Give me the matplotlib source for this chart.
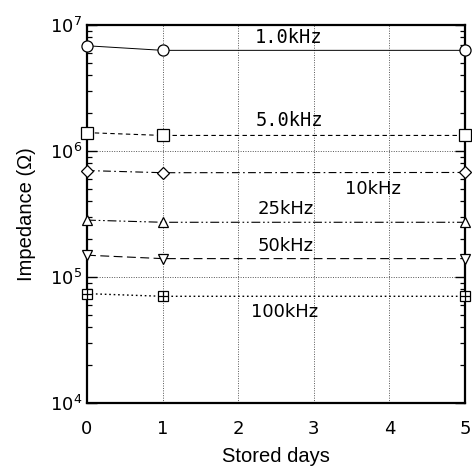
import numpy as np
import matplotlib
matplotlib.use("Agg")
import matplotlib.pyplot as plt
from matplotlib.ticker import LogLocator, NullFormatter

# stored days where the markers sit
days = [0, 1, 5]

# impedance (ohm) per frequency
z_1k = [6.85e6, 6.3e6, 6.3e6]
z_5k = [1.40e6, 1.33e6, 1.33e6]
z_10k = [7.0e5, 6.73e5, 6.76e5]
z_25k = [2.83e5, 2.72e5, 2.72e5]
z_50k = [1.49e5, 1.40e5, 1.40e5]
z_100k = [7.38e4, 7.03e4, 7.03e4]

labels = ["1.0kHz", "5.0kHz", "10kHz", "25kHz", "50kHz", "100kHz"]
label_x = [2.67, 2.68, 3.78, 2.63, 2.63, 2.62]
label_y = [8.0e6, 1.75e6, 5.0e5, 3.45e5, 1.77e5, 5.25e4]

fig = plt.figure(figsize=(4.72, 4.73), dpi=100)
ax = fig.add_axes([0.1843, 0.148, 0.8007, 0.799])

mk = dict(markersize=8, markerfacecolor="white", markeredgecolor="black",
          markeredgewidth=0.9, clip_on=False, zorder=5)

ax.plot(days, z_1k, color="black", lw=0.7, ls="-", marker="o", **mk)
ax.plot(days, z_5k, color="black", lw=0.8, ls=(0, (4, 3)), marker="s", **mk)
ax.plot(days, z_10k, color="black", lw=0.8, ls=(0, (7, 3, 1.5, 3)), marker="D",
        **dict(mk, markersize=6.5))
ax.plot(days, z_25k, color="black", lw=0.8, ls=(0, (8, 2.5, 1.5, 2.5, 1.5, 2.5)),
        marker="^", **dict(mk, markersize=7))
ax.plot(days, z_50k, color="black", lw=0.8, ls=(0, (8, 4)), marker="v",
        **dict(mk, markersize=7))
ax.plot(days, z_100k, color="black", lw=1.0, ls=(0, (1.2, 2)), marker="s",
        **dict(mk, markersize=7.5))
# the plus inside the last series' squares
ax.plot(days, z_100k, ls="none", marker="+", markersize=7.5, color="black",
        markeredgewidth=0.9, clip_on=False, zorder=6)

for i, t in enumerate(labels):
    if t in ("1.0kHz", "5.0kHz"):
        ax.text(label_x[i], label_y[i], t, ha="center", va="center",
                fontsize=13.5, family="DejaVu Sans Mono")
    else:
        ax.text(label_x[i], label_y[i], t, ha="center", va="center", fontsize=13)

ax.set_yscale("log")
ax.set_xlim(0, 5)
ax.set_ylim(1e4, 1e7)
ax.set_xticks([0, 1, 2, 3, 4, 5])
ax.yaxis.set_major_locator(LogLocator(base=10, numticks=10))
ax.yaxis.set_minor_locator(LogLocator(base=10, subs=np.arange(2, 10), numticks=10))
ax.yaxis.set_minor_formatter(NullFormatter())

ax.grid(True, which="major", ls=(0, (1, 1.5)), lw=0.7, color="#555555")
ax.tick_params(axis="y", which="major", direction="in", length=7, width=1,
               left=True, right=True, labelsize=13)
ax.tick_params(axis="y", which="minor", direction="in", length=3.5, width=0.9,
               left=True, right=True)
ax.tick_params(axis="x", which="major", length=0, labelsize=13, pad=12)

for s in ax.spines.values():
    s.set_linewidth(1.6)

ax.set_xlabel("Stored days", fontsize=14.5, family="Liberation Sans", labelpad=7)
ax.set_ylabel("Impedance (\u03a9)", fontsize=14.5, family="Liberation Sans",
              labelpad=10)

fig.savefig("out.png", dpi=100)
